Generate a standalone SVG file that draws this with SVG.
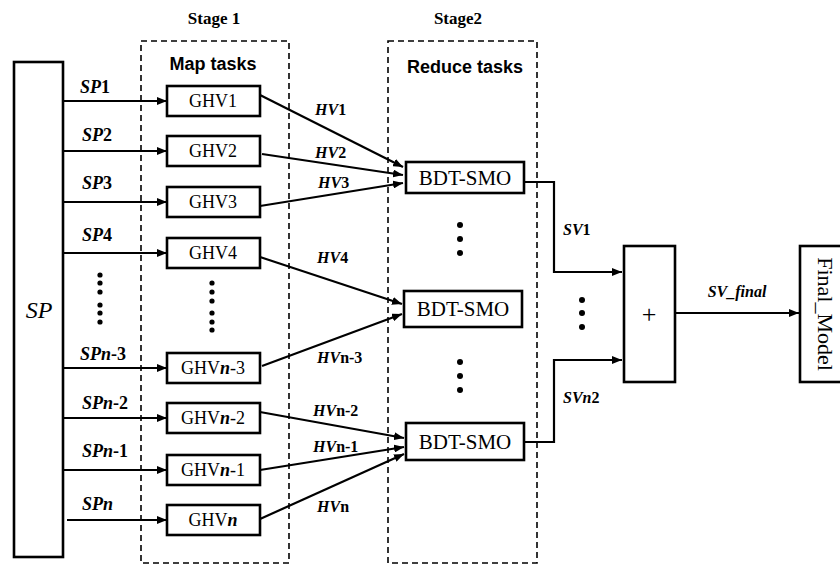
<svg xmlns="http://www.w3.org/2000/svg" width="840" height="565" viewBox="0 0 840 565">
<defs>
<marker id="ah" markerUnits="userSpaceOnUse" markerWidth="10" markerHeight="8" refX="10" refY="4" orient="auto">
<path d="M0,0 L10,4 L0,8 z" fill="#000"/>
</marker>
<style>
.box{fill:#fff;stroke:#000;stroke-width:2.6}
.dash{fill:none;stroke:#000;stroke-width:1.6;stroke-dasharray:6,4}
.arr{fill:none;stroke:#000;stroke-width:2.2;marker-end:url(#ah)}
.serif{font-family:"Liberation Serif","Times New Roman",serif;fill:#000}
.node{font-size:18px;text-anchor:middle}
.bdt{font-size:21px;text-anchor:middle}
.lab{font-size:18px;font-weight:bold}
.hv{font-size:16px;font-weight:bold}
.stage{font-size:17px;font-weight:bold;text-anchor:middle}
.sans{font-family:"Liberation Sans",Arial,sans-serif;font-weight:bold;font-size:18px;text-anchor:middle;fill:#000}
.it{font-style:italic}
.dot{fill:#000}
</style>
</defs>

<text class="serif stage" x="214" y="24">Stage 1</text>
<text class="serif stage" x="458" y="24">Stage2</text>

<g id="stage1">
<rect class="dash" x="141" y="41" width="148" height="522"/>
<text class="sans" x="213" y="70">Map tasks</text>
</g>
<g id="stage2">
<rect class="dash" x="388" y="41" width="149" height="522"/>
<text class="sans" x="465" y="73">Reduce tasks</text>
</g>

<g id="SP">
<rect class="box" x="14" y="62" width="49" height="495"/>
<text class="serif it" x="39" y="318" font-size="24" text-anchor="middle">SP</text>
</g>

<g id="connectors">
<line class="arr" x1="63" y1="101" x2="167" y2="101"/>
<line class="arr" x1="63" y1="151" x2="167" y2="151"/>
<line class="arr" x1="63" y1="202" x2="167" y2="202"/>
<line class="arr" x1="63" y1="253" x2="167" y2="253"/>
<line class="arr" x1="63" y1="368" x2="167" y2="368"/>
<line class="arr" x1="63" y1="418" x2="167" y2="418"/>
<line class="arr" x1="63" y1="470" x2="167" y2="470"/>
<line class="arr" x1="67" y1="520" x2="167" y2="520"/>

<line class="arr" x1="260" y1="95" x2="403" y2="167"/>
<line class="arr" x1="262" y1="154" x2="403" y2="175"/>
<line class="arr" x1="260" y1="206" x2="403" y2="183"/>
<line class="arr" x1="260" y1="257" x2="402" y2="304"/>
<line class="arr" x1="262" y1="366" x2="402" y2="314"/>
<line class="arr" x1="260" y1="412" x2="404" y2="438"/>
<line class="arr" x1="260" y1="470" x2="404" y2="447"/>
<line class="arr" x1="260" y1="519" x2="404" y2="454"/>

<polyline class="arr" points="524,182 554,182 554,272 622,272"/>
<polyline class="arr" points="523,442 554,442 554,360 622,360"/>
<line class="arr" x1="675" y1="313" x2="799" y2="313"/>

<text class="serif lab" x="80" y="93"><tspan class="it">SP</tspan>1</text>
<text class="serif lab" x="82" y="141"><tspan class="it">SP</tspan>2</text>
<text class="serif lab" x="82" y="189"><tspan class="it">SP</tspan>3</text>
<text class="serif lab" x="82" y="241"><tspan class="it">SP</tspan>4</text>
<text class="serif lab" x="80" y="360"><tspan class="it">SPn</tspan>-3</text>
<text class="serif lab" x="82" y="409"><tspan class="it">SPn</tspan>-2</text>
<text class="serif lab" x="82" y="457"><tspan class="it">SPn</tspan>-1</text>
<text class="serif lab" x="82" y="510"><tspan class="it">SPn</tspan></text>

<text class="serif hv" x="315" y="115"><tspan class="it">HV</tspan>1</text>
<text class="serif hv" x="315" y="158"><tspan class="it">HV</tspan>2</text>
<text class="serif hv" x="318" y="188"><tspan class="it">HV</tspan>3</text>
<text class="serif hv" x="317" y="263"><tspan class="it">HV</tspan>4</text>
<text class="serif hv" x="317" y="363"><tspan class="it">HV</tspan>n-3</text>
<text class="serif hv" x="313" y="416"><tspan class="it">HV</tspan>n-2</text>
<text class="serif hv" x="313" y="452"><tspan class="it">HV</tspan>n-1</text>
<text class="serif hv" x="317" y="512"><tspan class="it">HV</tspan>n</text>

<text class="serif hv" x="563" y="235"><tspan class="it">SV</tspan>1</text>
<text class="serif hv" x="563" y="403"><tspan class="it">SVn</tspan>2</text>
<text class="serif hv it" x="737" y="297" text-anchor="middle">SV_final</text>
</g>

<g id="GHV1"><rect class="box" x="167" y="86" width="93" height="30"/><text class="serif node" x="213" y="107">GHV1</text></g>
<g id="GHV2"><rect class="box" x="167" y="136" width="93" height="30"/><text class="serif node" x="213" y="157">GHV2</text></g>
<g id="GHV3"><rect class="box" x="167" y="187" width="93" height="30"/><text class="serif node" x="213" y="208">GHV3</text></g>
<g id="GHV4"><rect class="box" x="167" y="238" width="93" height="30"/><text class="serif node" x="213" y="259">GHV4</text></g>
<g id="GHVn-3"><rect class="box" x="167" y="353" width="93" height="30"/><text class="serif node" x="213" y="374">GHV<tspan font-style="italic" font-weight="bold">n</tspan>-3</text></g>
<g id="GHVn-2"><rect class="box" x="167" y="403" width="93" height="30"/><text class="serif node" x="213" y="424">GHV<tspan font-style="italic" font-weight="bold">n</tspan>-2</text></g>
<g id="GHVn-1"><rect class="box" x="167" y="455" width="93" height="30"/><text class="serif node" x="213" y="476">GHV<tspan font-style="italic" font-weight="bold">n</tspan>-1</text></g>
<g id="GHVn"><rect class="box" x="167" y="505" width="93" height="30"/><text class="serif node" x="213" y="526">GHV<tspan font-style="italic" font-weight="bold">n</tspan></text></g>

<g id="BDT1"><rect class="box" x="406" y="162" width="118" height="31"/><text class="serif bdt" x="465" y="185">BDT-SMO</text></g>
<g id="BDT2"><rect class="box" x="404" y="291" width="118" height="36"/><text class="serif bdt" x="463" y="316">BDT-SMO</text></g>
<g id="BDT3"><rect class="box" x="406" y="423" width="118" height="37"/><text class="serif bdt" x="465" y="449">BDT-SMO</text></g>

<g id="plus"><rect class="box" x="624" y="246" width="51" height="136"/><text class="serif" x="649" y="323" font-size="26" text-anchor="middle">+</text></g>
<g id="Final_Model"><rect class="box" x="800" y="246" width="44" height="136"/><text class="serif" x="0" y="0" font-size="22" text-anchor="middle" transform="translate(818,314) rotate(90)">Final_Model</text></g>

<g id="dots">
<circle class="dot" cx="100" cy="275" r="2.6"/><circle class="dot" cx="100" cy="283" r="2.6"/><circle class="dot" cx="100" cy="292" r="2.6"/>
<circle class="dot" cx="100" cy="305" r="2.6"/><circle class="dot" cx="100" cy="313" r="2.6"/><circle class="dot" cx="100" cy="322" r="2.6"/>
<circle class="dot" cx="212" cy="283" r="2.6"/><circle class="dot" cx="212" cy="292" r="2.6"/><circle class="dot" cx="212" cy="301" r="2.6"/>
<circle class="dot" cx="212" cy="313" r="2.6"/><circle class="dot" cx="212" cy="322" r="2.6"/><circle class="dot" cx="212" cy="330" r="2.6"/>
<circle class="dot" cx="460" cy="225" r="3"/><circle class="dot" cx="460" cy="239" r="3"/><circle class="dot" cx="460" cy="253" r="3"/>
<circle class="dot" cx="460" cy="362" r="3"/><circle class="dot" cx="460" cy="376" r="3"/><circle class="dot" cx="460" cy="390" r="3"/>
<circle class="dot" cx="582" cy="300" r="3"/><circle class="dot" cx="582" cy="313" r="3"/><circle class="dot" cx="582" cy="327" r="3"/>
</g>
</svg>
